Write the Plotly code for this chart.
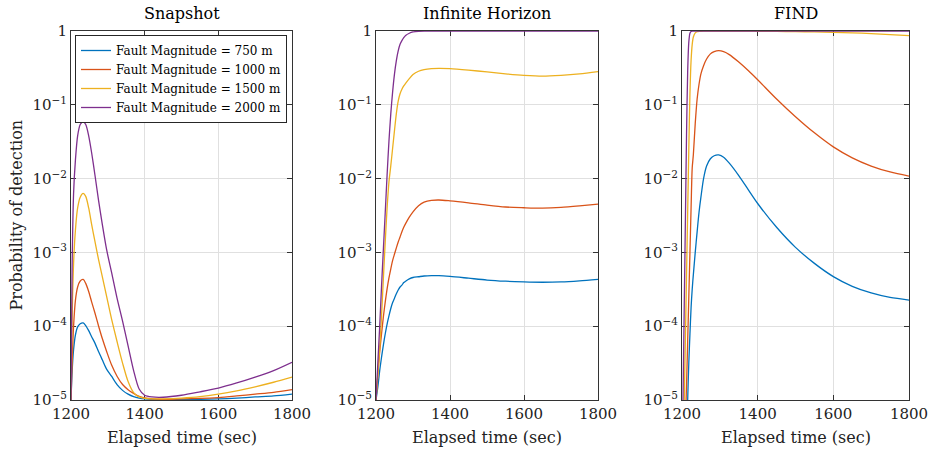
import plotly.graph_objects as go

# ---------------- data ----------------
series_names = ["Fault Magnitude = 750 m", "Fault Magnitude = 1000 m",
                "Fault Magnitude = 1500 m", "Fault Magnitude = 2000 m"]
colors = ["#0072BD", "#D95319", "#EDB120", "#7E2F8E"]
panel_titles = ["Snapshot", "Infinite Horizon", "FIND"]

# Snapshot
snap_t = [1200, 1203, 1207, 1212, 1218, 1225, 1233, 1240, 1248, 1256, 1265, 1275, 1285, 1297, 1310,
          1325, 1340, 1355, 1370, 1385, 1400, 1420, 1450, 1500, 1550, 1600, 1650, 1700, 1750, 1800]
snap_750 = [1.0e-5, 2.4e-5, 4.8e-5, 7.6e-5, 9.8e-5, 1.08e-4, 1.11e-4, 1.02e-4, 8.7e-5, 7.2e-5, 5.9e-5,
            4.5e-5, 3.5e-5, 2.6e-5, 2.1e-5, 1.62e-5, 1.35e-5, 1.20e-5, 1.11e-5, 1.06e-5, 1.035e-5,
            1.02e-5, 1.01e-5, 1.01e-5, 1.02e-5, 1.035e-5, 1.06e-5, 1.10e-5, 1.135e-5, 1.20e-5]
snap_1000 = [1.0e-5, 3.2e-5, 1.0e-4, 2.24e-4, 3.4e-4, 4.1e-4, 4.3e-4, 3.8e-4, 2.95e-4, 2.14e-4, 1.51e-4,
             1.0e-4, 6.8e-5, 4.5e-5, 3.0e-5, 2.1e-5, 1.62e-5, 1.38e-5, 1.23e-5, 1.12e-5, 1.07e-5,
             1.035e-5, 1.02e-5, 1.035e-5, 1.05e-5, 1.08e-5, 1.135e-5, 1.20e-5, 1.27e-5, 1.38e-5]
snap_1500 = [1.0e-5, 1.26e-4, 7.1e-4, 2.0e-3, 4.0e-3, 5.6e-3, 6.3e-3, 5.75e-3, 4.0e-3, 2.4e-3, 1.41e-3,
             7.9e-4, 4.7e-4, 2.5e-4, 1.26e-4, 6.2e-5, 3.16e-5, 1.78e-5, 1.26e-5, 1.10e-5, 1.05e-5,
             1.035e-5, 1.035e-5, 1.06e-5, 1.11e-5, 1.20e-5, 1.33e-5, 1.51e-5, 1.74e-5, 2.04e-5]
snap_2000 = [1.0e-5, 6.3e-4, 6.3e-3, 1.78e-2, 3.8e-2, 5.4e-2, 5.9e-2, 5.4e-2, 3.8e-2, 2.24e-2, 1.12e-2,
             5.0e-3, 2.4e-3, 1.07e-3, 5.4e-4, 2.4e-4, 1.17e-4, 5.4e-5, 2.5e-5, 1.41e-5, 1.16e-5,
             1.10e-5, 1.09e-5, 1.16e-5, 1.29e-5, 1.45e-5, 1.70e-5, 2.04e-5, 2.5e-5, 3.24e-5]

# Infinite Horizon
ih_t = [1200, 1205, 1210, 1215, 1220, 1225, 1230, 1235, 1240, 1245, 1250, 1255, 1260, 1265, 1270, 1275,
        1280, 1290, 1300, 1315, 1330, 1350, 1370, 1400, 1450, 1500, 1550, 1600, 1650, 1700, 1750, 1800]
ih_750 = [1.0e-5, 1.5e-5, 2.5e-5, 3.8e-5, 5.6e-5, 7.9e-5, 1.07e-4, 1.38e-4, 1.74e-4, 2.09e-4, 2.4e-4,
          2.75e-4, 3.1e-4, 3.4e-4, 3.6e-4, 3.9e-4, 4.07e-4, 4.37e-4, 4.57e-4, 4.68e-4, 4.79e-4, 4.84e-4,
          4.84e-4, 4.73e-4, 4.47e-4, 4.22e-4, 4.07e-4, 3.98e-4, 3.94e-4, 3.98e-4, 4.12e-4, 4.32e-4]
ih_1000 = [1.0e-5, 2.24e-5, 4.5e-5, 7.9e-5, 1.35e-4, 2.14e-4, 3.2e-4, 4.5e-4, 6.0e-4, 7.8e-4, 9.5e-4,
           1.15e-3, 1.38e-3, 1.62e-3, 1.9e-3, 2.19e-3, 2.45e-3, 3.0e-3, 3.55e-3, 4.3e-3, 4.8e-3, 5.07e-3,
           5.13e-3, 5.0e-3, 4.7e-3, 4.37e-3, 4.12e-3, 4.03e-3, 3.98e-3, 4.07e-3, 4.27e-3, 4.52e-3]
ih_1500 = [1.0e-5, 2.2e-5, 5.0e-5, 1.4e-4, 4.5e-4, 1.4e-3, 4.0e-3, 9.0e-3, 1.5e-2, 2.6e-2, 4.5e-2,
           7.6e-2, 0.112, 0.141, 0.162, 0.180, 0.195, 0.226, 0.257, 0.285, 0.300, 0.309, 0.312, 0.309,
           0.295, 0.279, 0.263, 0.251, 0.245, 0.251, 0.263, 0.282]
ih_2000 = [1.0e-5, 3.2e-5, 1.0e-4, 3.5e-4, 1.12e-3, 3.5e-3, 1.12e-2, 3.2e-2, 7.6e-2, 0.151, 0.263, 0.398,
           0.537, 0.66, 0.741, 0.813, 0.871, 0.933, 0.97, 0.991, 0.998, 1.0, 1.0, 1.0, 1.0, 1.0, 1.0,
           1.0, 1.0, 1.0, 1.0, 1.0]

# FIND
find_t = [1200, 1203, 1206, 1209, 1212, 1215, 1218, 1221, 1224, 1227, 1230, 1235, 1240, 1245, 1250, 1257,
          1265, 1275, 1285, 1297, 1310, 1325, 1350, 1375, 1400, 1450, 1500, 1550, 1600, 1650, 1700,
          1750, 1800]
find_750 = [1e-9, 6e-9, 3.2e-8, 2.5e-7, 1.6e-6, 1.0e-5, 3.2e-5, 7.9e-5, 1.78e-4, 3.2e-4, 5.0e-4, 1.0e-3,
            1.9e-3, 3.5e-3, 5.6e-3, 1.0e-2, 1.48e-2, 1.86e-2, 2.04e-2, 2.09e-2, 1.95e-2, 1.62e-2, 1.10e-2,
            7.1e-3, 4.6e-3, 2.19e-3, 1.17e-3, 7.1e-4, 4.7e-4, 3.47e-4, 2.82e-4, 2.45e-4, 2.26e-4]
find_1000 = [1e-8, 2.5e-7, 1.6e-6, 5e-6, 1.6e-5, 6.3e-5, 2.5e-4, 1.0e-3, 4.0e-3, 1.4e-2, 2.1e-2, 5.6e-2,
             0.12, 0.19, 0.263, 0.339, 0.417, 0.49, 0.525, 0.541, 0.525, 0.479, 0.38, 0.292, 0.219,
             0.12, 6.9e-2, 4.17e-2, 2.69e-2, 1.91e-2, 1.48e-2, 1.23e-2, 1.08e-2]
find_1500 = [3e-8, 8e-7, 1.0e-5, 7e-5, 5e-4, 3.5e-3, 2.5e-2, 0.141, 0.398, 0.66, 0.83, 0.944, 0.977,
             0.989, 0.993, 0.995, 0.996, 0.996, 0.996, 0.996, 0.996, 0.996, 0.995, 0.994, 0.993, 0.988,
             0.982, 0.972, 0.96, 0.945, 0.922, 0.895, 0.865]
find_2000 = [1e-6, 1.4e-5, 2.0e-4, 2.8e-3, 4.0e-2, 0.282, 0.708, 0.933, 0.982, 0.995, 0.999, 1.0, 1.0,
             1.0, 1.0, 1.0, 1.0, 1.0, 1.0, 1.0, 1.0, 1.0, 1.0, 1.0, 1.0, 1.0, 1.0, 1.0, 1.0, 1.0, 1.0,
             1.0, 1.0]

x_ticks = [1200, 1400, 1600, 1800]
y_ticks = [1e-5, 1e-4, 1e-3, 1e-2, 1e-1, 1]
y_ticktext = ["10<sup>−5</sup>", "10<sup>−4</sup>", "10<sup>−3</sup>", "10<sup>−2</sup>",
              "10<sup>−1</sup>", "1"]

# ---------------- figure ----------------
W, H = 929, 451
FONT = "DejaVu Serif, Liberation Serif, serif"
AX = "#333333"
GRID = "#e0e0e0"
FS = 16
TFS = 15

panels = [
    (snap_t, [snap_750, snap_1000, snap_1500, snap_2000]),
    (ih_t, [ih_750, ih_1000, ih_1500, ih_2000]),
    (find_t, [find_750, find_1000, find_1500, find_2000]),
]
x_px = [(71, 292), (376, 598), (682, 909)]
y_top, y_bot = 31, 400

fig = go.Figure()
for p, (t, series) in enumerate(panels):
    xa = "x" if p == 0 else f"x{p+1}"
    ya = "y" if p == 0 else f"y{p+1}"
    for i, vals in enumerate(series):
        fig.add_trace(go.Scatter(
            x=t, y=vals, mode="lines", name=series_names[i],
            line=dict(color=colors[i], width=1.3, shape="spline", smoothing=0.8),
            xaxis=xa, yaxis=ya, showlegend=(p == 0), legendrank=i,
        ))

layout = dict(
    template="none",
    width=W, height=H, margin=dict(l=0, r=0, t=0, b=0, autoexpand=False),
    paper_bgcolor="white", plot_bgcolor="white",
    font=dict(family=FONT, size=FS, color="black"),
    legend=dict(x=75 / W, y=(H - 35) / H, xanchor="left", yanchor="top",
                bgcolor="white", bordercolor="#262626", borderwidth=1,
                font=dict(family=FONT, size=12, color="black"),
                itemwidth=30, tracegroupgap=0, traceorder="normal"),
    annotations=[],
)
for p in range(3):
    sx = "" if p == 0 else str(p + 1)
    x0, x1 = x_px[p]
    layout["xaxis" + sx] = dict(
        domain=[x0 / W, x1 / W], range=[1200, 1800], anchor="y" + sx, automargin=False,
        tickmode="array", tickvals=x_ticks, ticks="inside", ticklen=5, tickcolor=AX,
        showline=True, linecolor=AX, linewidth=1, mirror="ticks", ticklabeloverflow="allow",
        showgrid=True, gridcolor=GRID, gridwidth=1, zeroline=False,
        tickfont=dict(family=FONT, size=TFS, color="#222"), layer="below traces",
    )
    layout["yaxis" + sx] = dict(
        domain=[(H - y_bot) / H, (H - y_top) / H], type="log", range=[-5, 0], automargin=False,
        anchor="x" + sx, tickmode="array", tickvals=y_ticks, ticktext=y_ticktext,
        ticks="inside", ticklen=5, tickcolor=AX, ticklabeloverflow="allow",
        showline=True, linecolor=AX, linewidth=1, mirror="ticks",
        showgrid=True, gridcolor=GRID, gridwidth=1, zeroline=False,
        tickfont=dict(family=FONT, size=TFS, color="#222"), layer="below traces",
    )
    cx = (x0 + x1) / 2 / W
    layout["annotations"].append(dict(
        text=panel_titles[p], x=cx, y=(H - 14) / H, xref="paper", yref="paper",
        showarrow=False, xanchor="center", yanchor="middle",
        font=dict(family=FONT, size=FS, color="black")))
    layout["annotations"].append(dict(
        text="Elapsed time (sec)", x=cx, y=(H - 437) / H, xref="paper", yref="paper",
        showarrow=False, xanchor="center", yanchor="middle",
        font=dict(family=FONT, size=FS, color="#222")))

layout["annotations"].append(dict(
    text="Probability of detection", x=16 / W, y=(H - (y_top + y_bot) / 2) / H,
    xref="paper", yref="paper", showarrow=False, textangle=-90,
    xanchor="center", yanchor="middle", font=dict(family=FONT, size=FS, color="#222")))

fig.update_layout(**layout)
fig.write_html("out.html")
